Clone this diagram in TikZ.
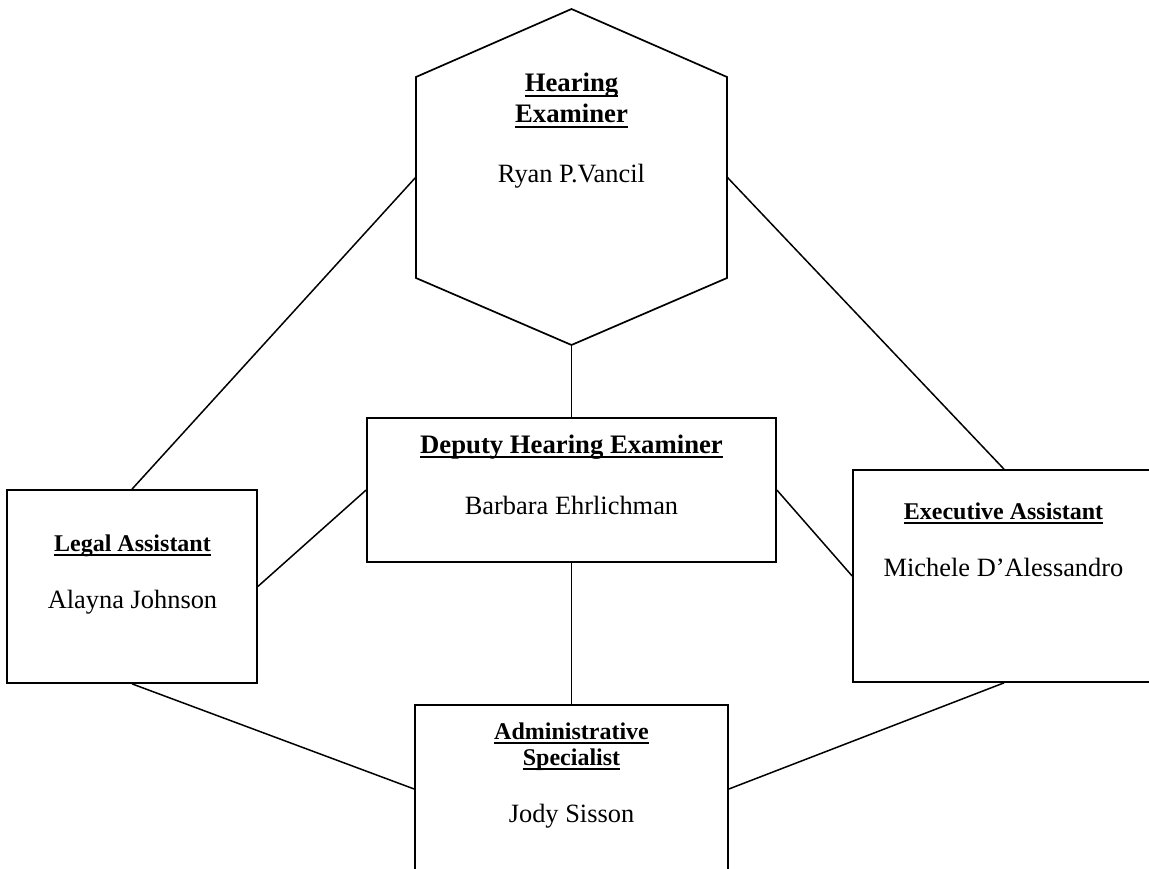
\documentclass[tikz,border=0pt]{standalone}
\usepackage{fontspec}
\setmainfont{Liberation Serif}
\newcommand\ulbox[1]{{\setbox0\hbox{#1}\rlap{\rule[-5pt]{\wd0}{1.8pt}}\box0}}
\begin{document}
\begin{tikzpicture}[x=1pt,y=-1pt,
  box/.style={draw, rectangle, inner sep=0pt, line width=1.7pt},
  hexline/.style={draw, line width=1.7pt, line join=miter},
  conn/.style={line width=1.5pt},
  bigtitle/.style={font=\fontsize{26.7}{30}\selectfont\bfseries, inner sep=0pt, anchor=base},
  smalltitle/.style={font=\fontsize{24}{27}\selectfont\bfseries, inner sep=0pt, anchor=base},
  person/.style={font=\fontsize{26.4}{30}\selectfont, inner sep=0pt, anchor=base}]
\useasboundingbox (0,0) rectangle (1149,869);
\clip (0,0) rectangle (1149,869);

% Hexagon (Hearing Examiner)
\coordinate (hexc) at (571.5,177);
\coordinate (hexW) at (416,177);
\coordinate (hexE) at (727,177);
\coordinate (hexS) at (571.5,345);
\draw[hexline] (hexc) +(0,-168) -- +(-155.5,-100) -- +(-155.5,101) -- +(0,168) -- +(155.5,101) -- +(155.5,-100) -- cycle;
\node[bigtitle] (hexT1) at (571.5,92) {\ulbox{Hearing}};
\node[bigtitle] (hexT2) at (571.5,123) {\ulbox{Examiner}};
\node[person] (hexN) at (571.5,183) {Ryan P.Vancil};

% Boxes
\node[box, minimum width=409pt, minimum height=144pt] (dep) at (571.5,490) {};
\node[bigtitle] (depT) at (571.5,453) {\ulbox{Deputy Hearing Examiner}};
\node[person] (depN) at (571.5,514) {Barbara Ehrlichman};

\node[box, minimum width=250pt, minimum height=193pt] (leg) at (132,586.5) {};
\node[smalltitle] (legT) at (132.5,551) {\ulbox{Legal Assistant}};
\node[person] (legN) at (132.5,608) {Alayna Johnson};

\node[box, minimum width=302pt, minimum height=212pt] (exe) at (1004,576) {};
\node[smalltitle] (exeT) at (1003.5,519) {\ulbox{Executive Assistant}};
\node[person] (exeN) at (1003.5,576) {Michele D’Alessandro};

\node[box, minimum width=313pt, minimum height=168pt] (adm) at (571.5,789) {};
\node[smalltitle] (admT1) at (571.5,739) {\ulbox{Administrative}};
\node[smalltitle] (admT2) at (571.5,765) {\ulbox{Specialist}};
\node[person] (admN) at (571.5,822) {Jody Sisson};

% Connectors
\draw[conn] (hexS) -- (dep.north);
\draw[conn] (hexW) -- (leg.north);
\draw[conn] (hexE) -- (exe.north);
\draw[conn] (dep.west) -- (leg.east);
\draw[conn] (dep.east) -- (exe.west);
\draw[conn] (dep.south) -- (adm.north);
\draw[conn] (leg.south) -- (adm.west);
\draw[conn] (exe.south) -- (adm.east);
\end{tikzpicture}
\end{document}
